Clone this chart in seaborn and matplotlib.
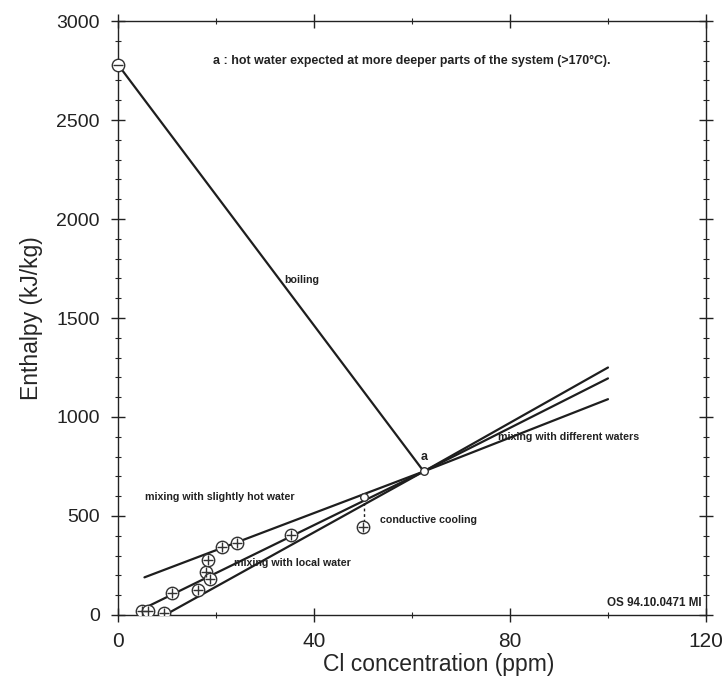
import matplotlib
matplotlib.use("Agg")
import pandas as pd
import seaborn as sns
import matplotlib.pyplot as plt
from matplotlib.ticker import MultipleLocator

# well samples (circled plus markers)
sample_cl = [4.8, 6.1, 9.4, 11.0, 16.4, 18.0, 18.3, 18.8, 21.2, 24.2, 35.4, 50.1]
sample_h = [22, 20, 10, 112, 126, 219, 278, 180, 345, 362, 404, 443]

# end members (plain circles)
steam_cl, steam_h = [0.0], [2780]
point_a_cl, point_a_h = [62.4], [725]
cooled_cl, cooled_h = [50.3], [598]

# process lines, start and end points
lines = {
    "boiling": ([0.0, 62.4], [2780, 725]),
    "slightly hot": ([5.4, 62.4, 100.0], [190, 725, 1090]),
    "local 1": ([5.0, 62.4, 100.0], [30, 725, 1195]),
    "local 2": ([9.6, 62.4, 100.0], [0, 725, 1250]),
}
cooling_cl = [50.3, 50.3]
cooling_h = [598, 443]

sns.set_style("ticks")
plt.rcParams["font.family"] = ["Liberation Sans", "DejaVu Sans"]

fig = plt.figure(figsize=(7.27, 6.79), dpi=100)
ax = fig.add_axes([0.1623, 0.0943, 0.8088, 0.8747])

for name, (xs, ys) in lines.items():
    sns.lineplot(x=xs, y=ys, ax=ax, color="#1e1e1e", linewidth=1.6, sort=False,
                 estimator=None)
sns.lineplot(x=cooling_cl, y=cooling_h, ax=ax, color="#1e1e1e", linewidth=1.0,
             linestyle=(0, (2, 2)), estimator=None, sort=False)

pts = pd.DataFrame({"cl": sample_cl, "h": sample_h})
sns.scatterplot(data=pts, x="cl", y="h", ax=ax, marker="o", s=80,
                facecolor="white", edgecolor="#333333", linewidth=1.0, zorder=3)
sns.scatterplot(data=pts, x="cl", y="h", ax=ax, marker="+", s=60,
                color="#333333", linewidth=1.0, zorder=4)

sns.scatterplot(x=steam_cl, y=steam_h, ax=ax, marker="o", s=80, facecolor="white",
                edgecolor="#333333", linewidth=1.0, zorder=3, clip_on=False)
sns.scatterplot(x=steam_cl, y=steam_h, ax=ax, marker="_", s=60, color="#333333",
                linewidth=1.0, zorder=4, clip_on=False)
sns.scatterplot(x=point_a_cl + cooled_cl, y=point_a_h + cooled_h, ax=ax, marker="o",
                s=30, facecolor="white", edgecolor="#333333", linewidth=1.0, zorder=3)

# annotations
note = dict(fontsize=7.7, fontweight="bold", color="#222222", va="center")
ax.text(19.4, 2800, "a : hot water expected at more deeper parts of the system (>170°C).",
        ha="left", **{**note, "fontsize": 8.9})
ax.text(34, 1690, "boiling", ha="left", **note)
ax.text(62.4, 800, "a", ha="center", **{**note, "fontsize": 9})
ax.text(77.6, 900, "mixing with different waters", ha="left", **note)
ax.text(5.5, 596, "mixing with slightly hot water", ha="left", **note)
ax.text(53.5, 480, "conductive cooling", ha="left", **note)
ax.text(23.7, 263, "mixing with local water", ha="left", **note)
ax.text(119.2, 60, "OS 94.10.0471 MI", ha="right", **{**note, "fontsize": 8.4})

ax.set_xlim(0, 120)
ax.set_ylim(0, 3000)
ax.xaxis.set_major_locator(MultipleLocator(40))
ax.xaxis.set_minor_locator(MultipleLocator(20))
ax.yaxis.set_major_locator(MultipleLocator(500))
ax.yaxis.set_minor_locator(MultipleLocator(100))
ax.tick_params(which="major", direction="inout", length=10, width=1.0,
               top=True, right=True, colors="#222222")
ax.tick_params(which="minor", direction="inout", length=5, width=0.8,
               top=True, right=True)
ax.tick_params(axis="x", which="major", labelsize=15, pad=7)
ax.tick_params(axis="y", which="major", labelsize=14, pad=8)
for side in ax.spines.values():
    side.set_linewidth(1.0)
    side.set_color("#222222")

ax.set_xlabel("Cl concentration (ppm)", fontsize=16.5)
ax.xaxis.set_label_coords(0.545, -0.064)
ax.set_ylabel("Enthalpy (kJ/kg)", fontsize=16.5)
ax.yaxis.set_label_coords(-0.128, 0.5)

fig.savefig("out.png", dpi=100)
